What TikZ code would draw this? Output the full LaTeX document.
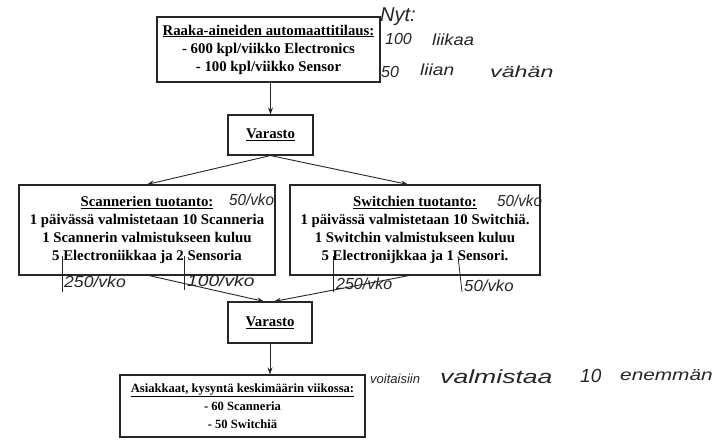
\documentclass[tikz,border=0pt]{standalone}
\usepackage{fontspec}
\setmainfont{Liberation Serif}
\newfontfamily\handfont{Liberation Sans}
\usetikzlibrary{arrows.meta}
% wide handwritten-style text
\newcommand{\wide}[2]{\scalebox{#1}[1]{#2}}
\begin{document}
\begin{tikzpicture}[x=1pt,y=-1pt,
  flowbox/.style={draw=black!85, line width=1.1pt, rectangle, inner sep=0pt,
    align=center, font=\fontsize{14.8}{18}\selectfont\bfseries},
  flow/.style={draw=black!85, line width=0.9pt, -{Stealth[length=7pt,width=5pt]}},
  hand/.style={font=\handfont\itshape\fontsize{16}{16}\selectfont, text=black!85, inner sep=0pt},
  handline/.style={draw=black!85, line width=0.8pt}]
\useasboundingbox[fill=white] (0,0) rectangle (724,442);

% process boxes
\node[flowbox, minimum width=223pt, minimum height=65pt] (tilaus) at (268.5,49.5)
  {\underline{Raaka-aineiden automaattitilaus:}\\ - 600 kpl/viikko Electronics\\ - 100 kpl/viikko Sensor};
\node[flowbox, minimum width=85pt, minimum height=40pt] (varasto1) at (270.5,135) {\underline{Varasto}};
\node[flowbox, minimum width=256pt, minimum height=90pt] (scan) at (147,230)
  {\underline{Scannerien tuotanto:}\\ 1 päivässä valmistetaan 10 Scanneria\\ 1 Scannerin valmistukseen kuluu\\ 5 Electroniikkaa ja 2 Sensoria};
\node[flowbox, minimum width=250pt, minimum height=90pt] (switch) at (415,230)
  {\underline{Switchien tuotanto:}\\ 1 päivässä valmistetaan 10 Switchiä.\\ 1 Switchin valmistukseen kuluu\\ 5 Electronijkkaa ja 1 Sensori.};
\node[flowbox, minimum width=84pt, minimum height=41pt] (varasto2) at (270,322.5) {\underline{Varasto}};
\node[flowbox, font=\fontsize{12.6}{18}\selectfont\bfseries, minimum width=245pt, minimum height=62pt] (asiakkaat) at (242.5,406)
  {\underline{Asiakkaat, kysyntä keskimäärin viikossa:}\\ - 60 Scanneria\\ - 50 Switchiä};

% connectors
\draw[flow] (tilaus.south -| varasto1.north) -- (varasto1.north);
\draw[flow] (varasto1.south) -- (scan.north);
\draw[flow] (varasto1.south) -- ([xshift=-7pt]switch.north);
\draw[flow] ([xshift=2pt]scan.south) -- ([xshift=-6pt]varasto2.north);
\draw[flow] ([xshift=-6pt]switch.south) -- ([xshift=4pt]varasto2.north);
\draw[flow] (varasto2.south) -- (varasto2.south |- asiakkaat.north);

% handwritten notes
\node[hand, font=\handfont\itshape\fontsize{20}{20}\selectfont, anchor=west] (nyt) at (380,17) {Nyt:};
\node[hand, anchor=west] (n100) at (385,39) {100};
\node[hand, anchor=west] (liikaa) at (432,40) {\wide{1.15}{liikaa}};
\node[hand, anchor=west] (n50) at (381,72) {50};
\node[hand, anchor=west] (liian) at (420,70) {\wide{1.2}{liian}};
\node[hand, anchor=west] (vahan) at (490,72) {\wide{1.45}{vähän}};

\node[hand, anchor=west] (scanvko) at (229,200) {\wide{0.95}{50/vko}};
\node[hand, anchor=west] (switchvko) at (497,201) {\wide{0.95}{50/vko}};

\coordinate (t1a) at (62,256);  \coordinate (t1b) at (62,292);
\coordinate (t2a) at (184,256); \coordinate (t2b) at (184,290);
\coordinate (t3a) at (333,256); \coordinate (t3b) at (333,292);
\coordinate (t4a) at (458,256); \coordinate (t4b) at (462,292);
\draw[handline] (t1a) -- (t1b);
\draw[handline] (t2a) -- (t2b);
\draw[handline] (t3a) -- (t3b);
\draw[handline] (t4a) -- (t4b);
\node[hand, anchor=west] (e250a) at (64,282) {\wide{1.1}{250/vko}};
\node[hand, anchor=west] (s100) at (187,281) {\wide{1.2}{100/vko}};
\node[hand, anchor=west] (e250b) at (336,284) {\wide{1.0}{250/vko}};
\node[hand, anchor=west] (s50) at (464,286) {\wide{1.05}{50/vko}};

\node[hand, font=\handfont\itshape\fontsize{13}{13}\selectfont, anchor=west] (voit) at (370,379) {\wide{1.0}{voitaisiin}};
\node[hand, font=\handfont\itshape\fontsize{19}{19}\selectfont, anchor=west] (valm) at (440,377) {\wide{1.4}{valmistaa}};
\node[hand, font=\handfont\itshape\fontsize{19}{19}\selectfont, anchor=west] (kymm) at (580,376) {10};
\node[hand, font=\handfont\itshape\fontsize{16}{16}\selectfont, anchor=west] (enem) at (620,375) {\wide{1.3}{enemmän}};
\end{tikzpicture}
\end{document}
